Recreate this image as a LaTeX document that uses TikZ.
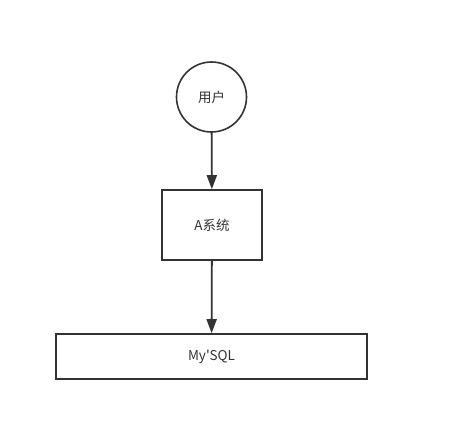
\documentclass[tikz,border=0pt]{standalone}
\usepackage{fontspec}
\newfontfamily\cjk{Noto Sans CJK SC}
\usetikzlibrary{arrows.meta}
\definecolor{ink}{HTML}{333333}
\tikzset{
  base/.style={draw=ink, line width=1.6pt, font=\cjk\fontsize{13.5}{16}\selectfont, text=ink},
  circ/.style={base, circle, minimum size=70pt, inner sep=0pt},
  boxnode/.style={base, rectangle, inner sep=0pt},
  conn/.style={draw=ink, line width=1.8pt, -{Triangle[length=14pt,width=10pt]}}
}
\begin{document}
\begin{tikzpicture}[x=1pt,y=-1pt]
\useasboundingbox (0,0) rectangle (460,421);
\node[circ] (user) at (211.5,97) {用户};
\node[boxnode, minimum width=100pt, minimum height=70pt] (a) at (212,225) {A系统};
\node[boxnode, minimum width=311pt, minimum height=45pt] (db) at (211.5,356.5) {My'SQL};
\draw[conn] (user) -- (a);
\draw[conn] (a) -- (db);
\end{tikzpicture}
\end{document}
